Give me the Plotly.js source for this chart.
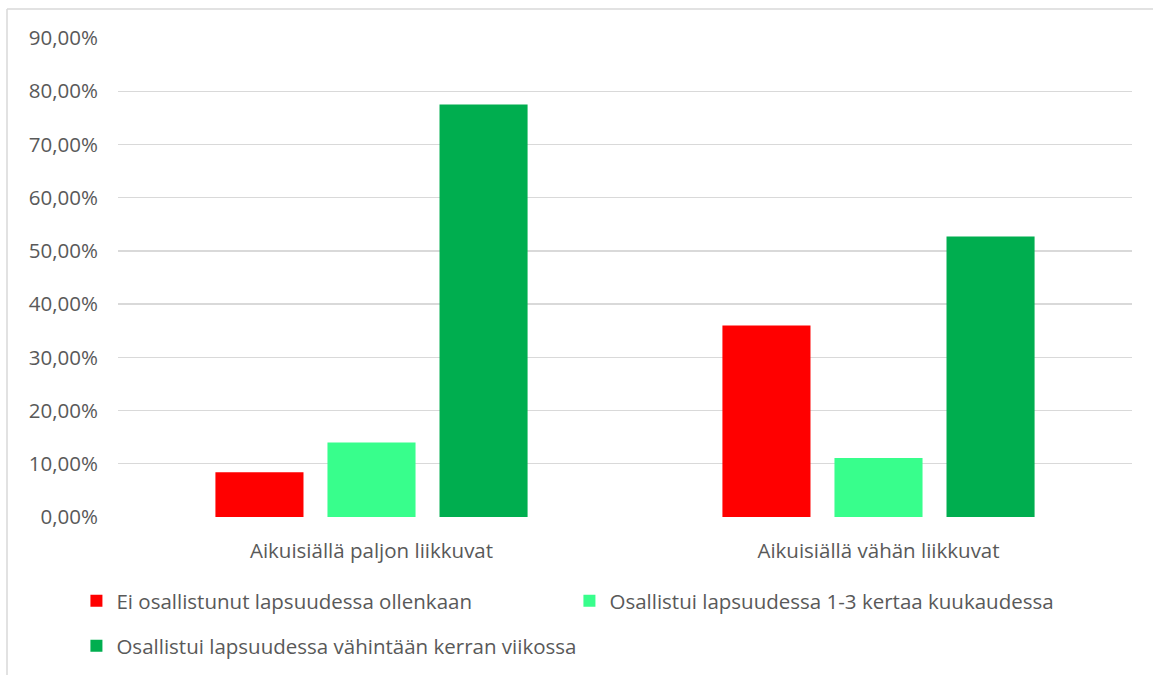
<!DOCTYPE html>
<html>
<head>
<meta charset="utf-8">
<script src="https://cdn.plot.ly/plotly-3.0.1.min.js"></script>
<style>html,body{margin:0;padding:0;background:#fff;}#chart{width:1153px;height:675px;}</style>
</head>
<body>
<div id="chart"></div>
<script>
const categories = ["Aikuisiällä paljon liikkuvat", "Aikuisiällä vähän liikkuvat"];
const seriesNames = ["Ei osallistunut lapsuudessa ollenkaan", "Osallistui lapsuudessa 1-3 kertaa kuukaudessa", "Osallistui lapsuudessa vähintään kerran viikossa"];
const eiOsallistunut = [0.084, 0.360];
const kuukaudessa = [0.140, 0.111];
const viikossa = [0.775, 0.527];
const colors = ["#FF0000", "#38FE8C", "#00AE4F"];
const tickVals = [0, 0.1, 0.2, 0.3, 0.4, 0.5, 0.6, 0.7, 0.8, 0.9];
const tickText = ["0,00%", "10,00%", "20,00%", "30,00%", "40,00%", "50,00%", "60,00%", "70,00%", "80,00%", "90,00%"];

const values = [eiOsallistunut, kuukaudessa, viikossa];
const legends = ['legend', 'legend3', 'legend2'];
const data = values.map((v, i) => ({
  type: 'bar', x: categories, y: v, name: seriesNames[i],
  marker: {color: colors[i]}, hoverinfo: 'none', legend: legends[i]
}));

const font = "Open Sans";
const fs = 20.5;
const lfont = {family: font, size: fs, color: '#595959'};
const legBase = {orientation: 'h', xanchor: 'left', yref: 'container', yanchor: 'top', font: lfont};
const layout = {
  width: 1153, height: 675,
  margin: {l: 118, r: 21, t: 38, b: 158},
  paper_bgcolor: '#fff', plot_bgcolor: '#fff',
  barmode: 'group', bargap: 0.337, bargroupgap: 0.214,
  font: {family: font, size: fs, color: '#595959'},
  xaxis: {showgrid: false, zeroline: false, showline: false, ticks: '', ticklabelstandoff: 19,
          automargin: false, tickfont: {family: font, size: fs, color: '#595959'}},
  yaxis: {range: [0, 0.9], tickvals: tickVals, ticktext: tickText,
          showgrid: true, gridcolor: '#D9D9D9', gridwidth: 1.3, zeroline: false,
          showline: false, ticks: '', ticklabelstandoff: 19, automargin: false,
          tickfont: {family: font, size: fs, color: '#595959'}},
  showlegend: true,
  legend: Object.assign({}, legBase, {x: -0.041, y: 0.1393}),
  legend3: Object.assign({}, legBase, {x: 0.4452, y: 0.1393}),
  legend2: Object.assign({}, legBase, {x: -0.041, y: 0.0726}),
  shapes: [
    {type: 'line', xref: 'paper', yref: 'paper',
     x0: (7 - 118) / 1014, x1: (1160 - 118) / 1014,
     y0: (517 - 9) / 479, y1: (517 - 9) / 479,
     line: {color: '#D9D9D9', width: 1.5}, layer: 'below'},
    {type: 'line', xref: 'paper', yref: 'paper',
     x0: (7 - 118) / 1014, x1: (7 - 118) / 1014,
     y0: (517 - 9) / 479, y1: (517 - 680) / 479,
     line: {color: '#D9D9D9', width: 1.5}, layer: 'below'}
  ]
};
Plotly.newPlot('chart', data, layout, {displayModeBar: false, staticPlot: true});
</script>
</body>
</html>
